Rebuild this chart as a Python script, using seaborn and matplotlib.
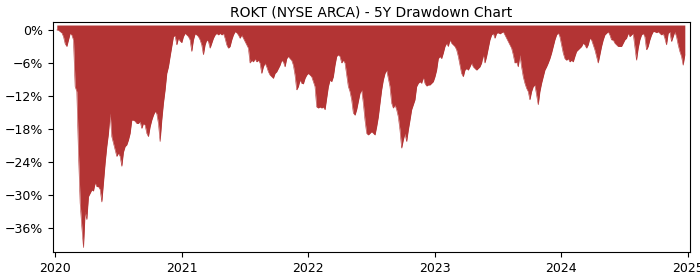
import matplotlib
matplotlib.use("Agg")
import matplotlib.pyplot as plt
import matplotlib.ticker as mtick
import matplotlib.dates as mdates
import seaborn as sns
import pandas as pd
import numpy as np

title = "ROKT (NYSE ARCA) - 5Y Drawdown Chart"
start_date = "2020-01-06"
end_date = "2024-12-24"
y_ticks = [0, -6, -12, -18, -24, -30, -36]
x_tick_years = ["2020", "2021", "2022", "2023", "2024", "2025"]

# drawdown (%), roughly every 4-5 days, grouped by year
dd_2020 = [0, 0, -0.3, -0.5, -1.2, -2.5, -3.0, -1.8, -0.6, -0.9, -1.8, -10.3, -11.2,
           -22.4, -31.5, -35.8, -39.6, -33, -34.5, -30.3, -29.7, -29.1, -29.3, -27.8,
           -28.5, -28.5, -29, -31.3, -27.8, -24.2, -21.2, -18.8, -15.1, -19.4, -20.6,
           -21.8, -23, -22.4, -23, -24.8, -22.2, -21.2, -20.9, -20, -18.8, -16.4, -16.4,
           -16.6, -17, -17, -16.6, -17.9, -17, -17.3, -18.8, -19.4, -17.6, -16.4, -15.5,
           -14.8, -15.2, -17, -20.3, -16.4, -13.3, -10.9, -7.9, -6.7, -4.8, -3, -1.2,
           -1, -2.7, -1.5, -2.0, -2.3]
dd_2021 = [-1.2, -0.6, -0.9, -1.2, -1.8, -3.9, -1.8, -0.7, -0.9, -1.2, -1.8, -2.7,
           -4.5, -2.7, -1.8, -2.1, -3.3, -2.4, -1.5, -0.9, -0.6, -0.9, -0.6, -0.9,
           -0.6, -1.5, -2.7, -3.3, -3, -1.8, -0.9, -0.3, -0.5, -0.9, -1.5, -0.9, -1.5,
           -2.1, -2.7, -3.3, -6, -5.5, -5.8, -5.2, -5.8, -5.5, -6, -7.9, -6.7, -6,
           -6.7, -7.6, -8.2, -8.5, -8.8, -7.9, -7.6, -7, -6.4, -5.5, -5.8, -6.7, -5.2,
           -4.8, -5.2, -5.5, -6.4, -8.2, -10.9, -10.3, -9.1, -9.7, -9.8, -8.8, -8.2,
           -7.9]
dd_2022 = [-8.2, -8.5, -9.4, -10.3, -14, -14.2, -14, -14.2, -14, -14.5, -12.4, -10.3,
           -9.1, -9.4, -8.5, -6.4, -4.8, -4.5, -4.8, -6, -5.5, -6, -8.2, -10.3, -11.2,
           -12.7, -15.1, -15.5, -14.5, -13, -11.5, -10.9, -13.3, -16.4, -18.8, -19.1,
           -18.8, -18.5, -18.8, -19.1, -17.6, -15.8, -13.3, -10.9, -9.1, -7.9, -7.3,
           -8.8, -10.3, -13.3, -14.2, -13.6, -14.5, -15.8, -18.2, -21.5, -20, -18.8,
           -20.3, -18.2, -16.4, -14.5, -13.6, -12.7, -10.3, -9.7, -9.4, -9.7, -8.6,
           -9.7, -10.2, -10, -10, -9.7, -9.4]
dd_2023 = [-8.5, -7.3, -5.2, -4.8, -5.2, -4.2, -3, -2.4, -3, -1.8, -2.4, -2.7, -3,
           -3.6, -4.8, -6.4, -7.9, -8.5, -7.3, -7, -7.3, -6.7, -6, -6.7, -7, -7.3, -7,
           -6.7, -6, -4.5, -6, -4.8, -3.3, -1.8, -0.9, -0.6, -1.5, -0.6, -0.5, -0.7,
           -0.5, -0.3, -0.9, -1.5, -2.1, -2.7, -3.3, -4.5, -6, -5.8, -6.7, -4.5, -6.7,
           -8.5, -9.7, -10.6, -11.2, -12.7, -11.2, -10.3, -10, -11.8, -13.6, -11.2,
           -9.7, -8.5, -7.3, -6.7, -6, -5.2, -4.2, -3, -1.8, -0.9, -0.5, -1.2]
dd_2024 = [-2.7, -4.2, -5.2, -5.5, -5.2, -5.8, -5.5, -5.8, -4.8, -3.9, -3.6, -3.3, -3,
           -2.4, -2.7, -3.3, -2.7, -1.5, -1.8, -2.7, -3.6, -4.8, -6, -4.5, -3, -1.8,
           -0.9, -0.6, -0.3, -0.9, -1.8, -1.8, -2.4, -2.7, -3, -3, -3, -2.4, -1.8,
           -1.5, -0.6, -1.2, -0.9, -0.6, -3, -5.5, -3.3, -1.8, -0.9, -0.6, -1.2, -3.6,
           -3, -1.8, -0.9, -0.3, -0.3, -0.5, -0.3, -0.6, -0.9, -0.6, -1.5, -2.7, -0.6,
           -0.3, -2.1, -1.2, -0.3, -1.2, -2.7, -3.9, -4.8, -6.4, -4.5]

values = dd_2020 + dd_2021 + dd_2022 + dd_2023 + dd_2024
dates = pd.date_range(start_date, end_date, periods=len(values))
df = pd.DataFrame({"date": dates, "drawdown": values})

fill_color = "#b33434"

fig = plt.figure(figsize=(7, 2.8), dpi=100)
ax = fig.add_axes([53 / 700, 1 - 252 / 280, (690 - 53) / 700, (252 - 22) / 280])

sns.lineplot(data=df, x="date", y="drawdown", ax=ax, color=fill_color, linewidth=0.4)
ax.fill_between(df["date"], df["drawdown"], 0.9, color=fill_color, linewidth=0)

ax.set_xlim(pd.Timestamp("2019-12-26"), pd.Timestamp("2025-01-08"))
ax.set_ylim(-40.4, 1.45)
ax.set_yticks(y_ticks)
ax.yaxis.set_major_formatter(mtick.PercentFormatter(decimals=0))
ax.set_xticks([pd.Timestamp(f"{y}-01-01") for y in x_tick_years])
ax.set_xticklabels(x_tick_years)
ax.tick_params(labelsize=9)
ax.set_xlabel("")
ax.set_ylabel("")
ax.set_title(title, fontsize=10, pad=4)

fig.savefig("out.png", dpi=100)
